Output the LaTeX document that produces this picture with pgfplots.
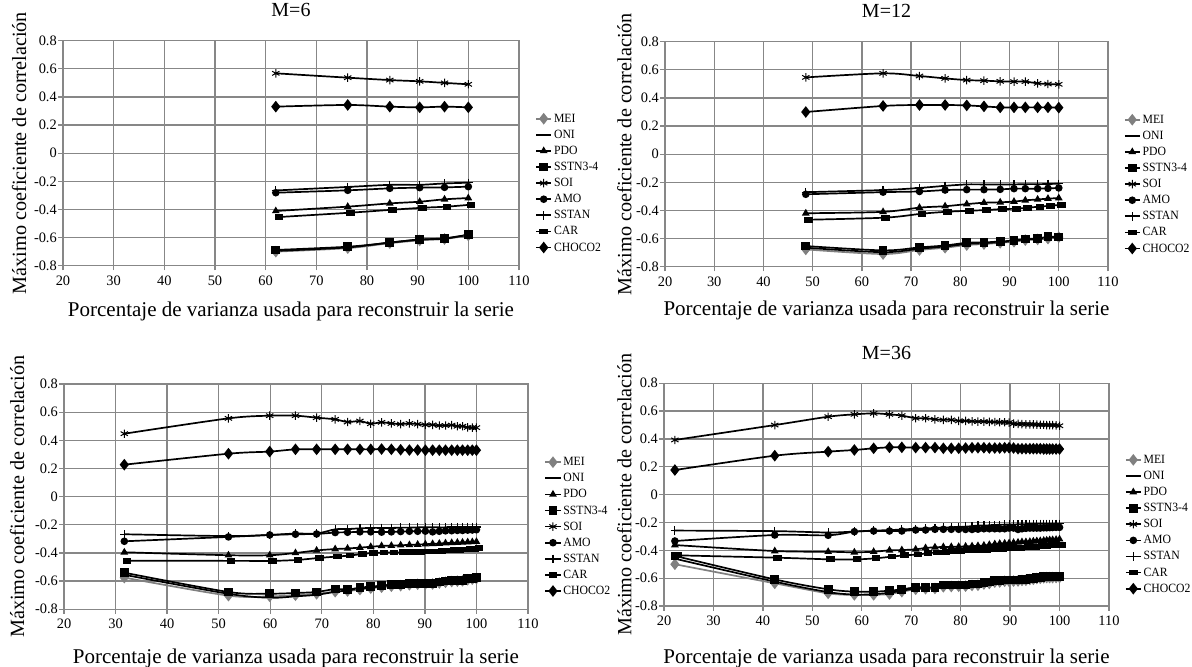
\documentclass[border=0pt]{standalone}
\usepackage{pgfplots}
\pgfplotsset{compat=1.18}
\usepackage{pgfplotstable}
\usepackage{fontspec}
\setmainfont{Liberation Serif}
\newfontfamily\legfont[FakeStretch=0.93]{Liberation Serif}
\definecolor{gridgray}{RGB}{135,135,135}
\definecolor{meigray}{RGB}{128,128,128}

\pgfplotstableread{
x xc MEI ONI PDO SSTN SOI AMO SSTAN CAR CHOCO
62.0 62.6 -0.700 -0.695 -0.411 -0.688 0.568 -0.281 -0.265 -0.454 0.331
76.2 76.7 -0.675 -0.670 -0.380 -0.665 0.537 -0.264 -0.240 -0.423 0.343
84.5 85.0 -0.640 -0.635 -0.357 -0.636 0.520 -0.250 -0.225 -0.402 0.331
90.4 90.9 -0.620 -0.615 -0.345 -0.613 0.511 -0.245 -0.225 -0.388 0.326
95.3 95.8 -0.610 -0.605 -0.328 -0.608 0.500 -0.243 -0.215 -0.380 0.331
100.0 100.5 -0.585 -0.580 -0.319 -0.579 0.490 -0.238 -0.210 -0.366 0.326
}\tabA

\pgfplotstableread{
x xc MEI ONI PDO SSTN SOI AMO SSTAN CAR CHOCO
48.6 49.1 -0.677 -0.665 -0.420 -0.653 0.546 -0.285 -0.270 -0.466 0.300
64.3 64.8 -0.710 -0.697 -0.410 -0.684 0.575 -0.270 -0.255 -0.451 0.343
71.7 72.2 -0.681 -0.672 -0.380 -0.663 0.556 -0.265 -0.240 -0.423 0.350
76.9 77.4 -0.665 -0.657 -0.370 -0.649 0.539 -0.255 -0.225 -0.409 0.350
81.3 81.8 -0.646 -0.638 -0.355 -0.630 0.527 -0.252 -0.215 -0.402 0.347
84.8 85.3 -0.639 -0.633 -0.345 -0.628 0.523 -0.252 -0.215 -0.397 0.340
88.1 88.6 -0.630 -0.625 -0.342 -0.620 0.518 -0.250 -0.215 -0.390 0.333
90.9 91.4 -0.622 -0.618 -0.337 -0.615 0.516 -0.245 -0.215 -0.388 0.333
93.2 93.7 -0.611 -0.607 -0.328 -0.603 0.516 -0.245 -0.213 -0.380 0.333
95.7 96.2 -0.606 -0.603 -0.322 -0.600 0.504 -0.245 -0.213 -0.373 0.333
97.8 98.3 -0.600 -0.594 -0.316 -0.587 0.499 -0.243 -0.212 -0.366 0.333
100.0 100.5 -0.590 -0.590 -0.312 -0.589 0.497 -0.240 -0.210 -0.360 0.331
}\tabB

\pgfplotstableread{
x xc MEI ONI PDO SSTN SOI AMO SSTAN CAR CHOCO
31.7 32.2 -0.575 -0.555 -0.395 -0.540 0.447 -0.317 -0.267 -0.455 0.227
51.9 52.4 -0.703 -0.690 -0.416 -0.677 0.556 -0.286 -0.280 -0.456 0.305
59.9 60.4 -0.708 -0.718 -0.416 -0.689 0.575 -0.272 -0.272 -0.456 0.320
64.9 65.4 -0.700 -0.708 -0.400 -0.684 0.575 -0.267 -0.262 -0.449 0.336
69.0 69.5 -0.690 -0.697 -0.382 -0.677 0.561 -0.265 -0.262 -0.435 0.336
72.6 73.1 -0.675 -0.676 -0.372 -0.656 0.549 -0.255 -0.232 -0.425 0.336
75.0 75.5 -0.670 -0.666 -0.368 -0.660 0.530 -0.253 -0.230 -0.418 0.336
77.4 77.9 -0.660 -0.653 -0.362 -0.646 0.537 -0.250 -0.225 -0.407 0.336
79.5 80.0 -0.650 -0.645 -0.356 -0.639 0.518 -0.250 -0.222 -0.400 0.336
81.6 82.1 -0.643 -0.637 -0.350 -0.632 0.528 -0.252 -0.222 -0.397 0.338
83.5 84.0 -0.636 -0.630 -0.348 -0.625 0.520 -0.250 -0.222 -0.397 0.336
85.3 85.8 -0.632 -0.628 -0.345 -0.625 0.515 -0.248 -0.220 -0.395 0.333
87.0 87.5 -0.626 -0.620 -0.343 -0.615 0.520 -0.246 -0.220 -0.393 0.331
88.6 89.1 -0.622 -0.618 -0.340 -0.615 0.515 -0.246 -0.218 -0.392 0.331
90.1 90.6 -0.620 -0.617 -0.338 -0.615 0.510 -0.245 -0.218 -0.390 0.330
91.5 92.0 -0.620 -0.618 -0.335 -0.618 0.510 -0.250 -0.218 -0.390 0.330
92.8 93.3 -0.613 -0.609 -0.333 -0.606 0.505 -0.246 -0.218 -0.385 0.330
94.0 94.5 -0.608 -0.603 -0.330 -0.600 0.505 -0.243 -0.218 -0.382 0.330
95.2 95.7 -0.603 -0.598 -0.328 -0.594 0.508 -0.242 -0.216 -0.380 0.330
96.3 96.8 -0.600 -0.596 -0.326 -0.594 0.500 -0.240 -0.216 -0.378 0.330
97.3 97.8 -0.598 -0.595 -0.325 -0.594 0.500 -0.240 -0.216 -0.376 0.330
98.3 98.8 -0.590 -0.586 -0.323 -0.582 0.492 -0.238 -0.215 -0.372 0.330
99.2 99.7 -0.586 -0.583 -0.322 -0.580 0.490 -0.237 -0.215 -0.370 0.330
100.0 100.5 -0.582 -0.578 -0.320 -0.575 0.490 -0.235 -0.215 -0.366 0.330
}\tabC

\pgfplotstableread{
x xc MEI ONI PDO SSTN SOI AMO SSTAN CAR CHOCO
22.2 22.7 -0.500 -0.460 -0.362 -0.440 0.393 -0.333 -0.258 -0.436 0.177
42.4 42.9 -0.637 -0.625 -0.405 -0.609 0.500 -0.290 -0.262 -0.453 0.280
53.2 53.7 -0.709 -0.700 -0.410 -0.680 0.560 -0.292 -0.272 -0.465 0.309
58.5 59.0 -0.720 -0.718 -0.414 -0.697 0.577 -0.266 -0.265 -0.465 0.321
62.4 62.9 -0.720 -0.715 -0.410 -0.697 0.584 -0.261 -0.258 -0.457 0.333
65.6 66.1 -0.714 -0.705 -0.400 -0.690 0.577 -0.261 -0.255 -0.445 0.340
68.1 68.6 -0.697 -0.690 -0.398 -0.680 0.568 -0.261 -0.250 -0.436 0.340
70.9 71.4 -0.680 -0.675 -0.393 -0.666 0.549 -0.254 -0.245 -0.430 0.338
72.9 73.4 -0.676 -0.672 -0.383 -0.666 0.549 -0.254 -0.242 -0.420 0.338
74.8 75.3 -0.674 -0.671 -0.378 -0.666 0.541 -0.249 -0.240 -0.415 0.338
76.5 77.0 -0.662 -0.656 -0.376 -0.649 0.537 -0.249 -0.236 -0.410 0.333
78.1 78.6 -0.660 -0.655 -0.375 -0.649 0.537 -0.249 -0.235 -0.405 0.333
79.6 80.1 -0.658 -0.654 -0.374 -0.649 0.530 -0.249 -0.232 -0.405 0.333
81.0 81.5 -0.657 -0.653 -0.372 -0.649 0.530 -0.250 -0.230 -0.400 0.335
82.3 82.8 -0.652 -0.647 -0.370 -0.642 0.527 -0.250 -0.226 -0.400 0.337
83.5 84.0 -0.651 -0.647 -0.368 -0.642 0.525 -0.248 -0.222 -0.398 0.337
84.7 85.2 -0.642 -0.637 -0.365 -0.632 0.525 -0.245 -0.222 -0.395 0.337
85.8 86.3 -0.638 -0.633 -0.360 -0.628 0.523 -0.245 -0.220 -0.393 0.335
86.9 87.4 -0.628 -0.623 -0.355 -0.618 0.522 -0.245 -0.218 -0.390 0.335
87.9 88.4 -0.627 -0.623 -0.352 -0.618 0.520 -0.245 -0.216 -0.388 0.335
88.9 89.4 -0.622 -0.618 -0.350 -0.613 0.520 -0.245 -0.215 -0.386 0.337
89.8 90.3 -0.622 -0.618 -0.348 -0.613 0.518 -0.240 -0.215 -0.385 0.337
90.7 91.2 -0.621 -0.617 -0.345 -0.613 0.510 -0.240 -0.214 -0.383 0.335
91.6 92.1 -0.620 -0.617 -0.343 -0.613 0.508 -0.250 -0.213 -0.382 0.330
92.4 92.9 -0.616 -0.612 -0.340 -0.608 0.507 -0.245 -0.212 -0.380 0.330
93.2 93.7 -0.615 -0.612 -0.340 -0.608 0.505 -0.242 -0.212 -0.378 0.330
94.0 94.5 -0.609 -0.605 -0.338 -0.601 0.505 -0.240 -0.211 -0.376 0.330
94.7 95.2 -0.608 -0.605 -0.335 -0.601 0.505 -0.240 -0.211 -0.374 0.330
95.4 95.9 -0.602 -0.598 -0.333 -0.594 0.503 -0.240 -0.210 -0.372 0.330
96.1 96.6 -0.601 -0.598 -0.332 -0.594 0.502 -0.240 -0.210 -0.370 0.330
96.8 97.3 -0.597 -0.593 -0.330 -0.589 0.502 -0.238 -0.210 -0.368 0.328
97.4 97.9 -0.596 -0.593 -0.328 -0.589 0.500 -0.238 -0.210 -0.366 0.328
98.0 98.5 -0.596 -0.593 -0.326 -0.589 0.500 -0.237 -0.210 -0.364 0.328
98.6 99.1 -0.596 -0.593 -0.325 -0.589 0.500 -0.236 -0.210 -0.363 0.328
99.3 99.8 -0.595 -0.592 -0.323 -0.589 0.498 -0.235 -0.210 -0.362 0.328
100.0 100.5 -0.595 -0.592 -0.320 -0.589 0.495 -0.235 -0.210 -0.360 0.328
}\tabD

\pgfplotsset{
  panel/.style={
    scale only axis,
    xmin=20, xmax=110, ymin=-0.8, ymax=0.8,
    xtick={20,30,40,50,60,70,80,90,100,110},
    xticklabels={20,30,40,50,60,70,80,90,100,110},
    ytick={-0.8,-0.6,-0.4,-0.2,0,0.2,0.4,0.6,0.8},
    yticklabels={-0.8,-0.6,-0.4,-0.2,0,0.2,0.4,0.6,0.8},
    grid=major,
    major grid style={gridgray, line width=0.65pt},
    axis line style={gridgray, line width=0.65pt},
    tick style={gridgray, line width=0.65pt},
    tick align=outside,
    major tick length=2.3pt,
    tick pos=left,
    ticklabel style={font=\fontsize{7.2}{8.5}\selectfont},
    yticklabel style={inner sep=0.6pt},
    xticklabel style={inner sep=1pt, yshift=-1.5pt},
    xlabel style={font=\fontsize{10.5}{12}\selectfont},
    ylabel style={font=\fontsize{10.1}{12}\selectfont},
    title style={font=\fontsize{10}{12}\selectfont, anchor=center},
    xlabel={Porcentaje de varianza usada para reconstruir la serie},
    ylabel={Máximo coeficiente de correlación},
    legend cell align=left,
    legend style={draw=none, fill=none, at={(1.035,0.367)}, anchor=west,
      font=\legfont\fontsize{6.3}{7}\selectfont, inner sep=0pt, row sep=0.55pt,
      nodes={inner xsep=1pt, inner ysep=0.5pt, text height=5pt, text depth=1.5pt}},
    legend image code/.code={\draw[mark repeat=2, mark phase=2] plot coordinates {(0pt,0pt) (3.75pt,0pt) (7.5pt,0pt)};},
  },
  meiS/.style={color=meigray, line width=0.85pt, smooth, mark=diamond*, mark size=2.25pt, mark options={solid, fill=meigray, draw=meigray, xscale=1.05}},
  oniS/.style={color=black, line width=0.85pt, smooth, no marks},
  pdoS/.style={color=black, line width=0.85pt, smooth, mark=triangle*, mark size=1.4pt, mark options={solid}},
  sstnS/.style={color=black, line width=0.85pt, smooth, mark=square*, mark size=1.75pt, mark options={solid}},
  soiS/.style={color=black, line width=0.85pt, smooth, mark=asterisk, mark size=2.1pt, mark options={solid, line width=0.5pt}},
  amoS/.style={color=black, line width=0.85pt, smooth, mark=*, mark size=1.45pt, mark options={solid}},
  sstanS/.style={color=black, line width=0.85pt, smooth, mark=+, mark size=2.1pt, mark options={solid, line width=0.6pt}},
  carS/.style={color=black, line width=0.85pt, smooth, mark=square*, mark size=1.2pt, mark options={solid, xscale=1.45, yscale=0.85}},
  chocoS/.style={color=black, line width=0.85pt, smooth, mark=diamond*, mark size=2.25pt, mark options={solid, xscale=1.05}},
}

\newcommand\allplots[1]{%
  \addplot[meiS] table[x=x, y=MEI]{#1}; \addlegendentry{MEI}
  \addplot[oniS] table[x=x, y=ONI]{#1}; \addlegendentry{ONI}
  \addplot[pdoS] table[x=x, y=PDO]{#1}; \addlegendentry{PDO}
  \addplot[sstnS] table[x=x, y=SSTN]{#1}; \addlegendentry{SSTN3-4}
  \addplot[soiS] table[x=x, y=SOI]{#1}; \addlegendentry{SOI}
  \addplot[amoS] table[x=x, y=AMO]{#1}; \addlegendentry{AMO}
  \addplot[sstanS] table[x=x, y=SSTAN]{#1}; \addlegendentry{SSTAN}
  \addplot[carS] table[x=xc, y=CAR]{#1}; \addlegendentry{CAR}
  \addplot[chocoS] table[x=x, y=CHOCO]{#1}; \addlegendentry{CHOCO2}
}

\begin{document}
\begin{tikzpicture}
\useasboundingbox (0,0) rectangle (596pt,-333.5pt);

% top-left
\begin{axis}[panel, at={(31.5pt,-20.35pt)}, anchor=north west,
  width=228pt, height=112.5pt,
  title={M=6}, title style={at={(0.5,1.0844)}},
  xlabel style={at={(0.5,-0.2044)}, anchor=center},
  ylabel style={at={(-0.0965,0.5)}, anchor=center}]
\allplots{\tabA}
\end{axis}

% top-right
\begin{axis}[panel, at={(332.5pt,-20.85pt)}, anchor=north west,
  width=221.5pt, height=112.5pt,
  title={M=12}, title style={at={(0.5,1.083)}},
  xlabel style={at={(0.5,-0.1924)}, anchor=center},
  ylabel style={at={(-0.0917,0.5)}, anchor=center}]
\allplots{\tabB}
\end{axis}

% bottom-left
\begin{axis}[panel, at={(32pt,-192pt)}, anchor=north west,
  width=232pt, height=112.65pt,
  xlabel style={at={(0.5,-0.2175)}, anchor=center},
  ylabel style={at={(-0.1009,0.5)}, anchor=center}]
\allplots{\tabC}
\end{axis}

% bottom-right
\begin{axis}[panel, at={(332pt,-191.65pt)}, anchor=north west,
  width=222.5pt, height=111.35pt,
  title={M=36}, title style={at={(0.5,1.081)}},
  xlabel style={at={(0.5,-0.2348)}, anchor=center},
  ylabel style={at={(-0.089,0.5)}, anchor=center}]
\allplots{\tabD}
\end{axis}
\end{tikzpicture}
\end{document}
